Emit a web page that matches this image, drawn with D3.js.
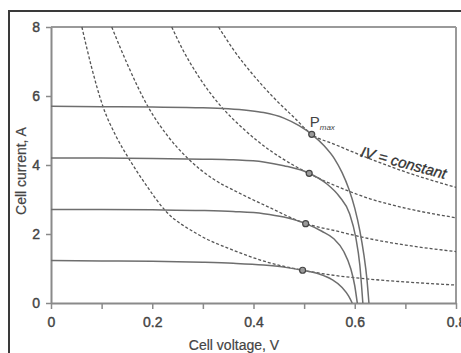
<!DOCTYPE html>
<html>
<head>
<meta charset="utf-8">
<script src="https://cdn.jsdelivr.net/npm/d3@7"></script>
<style>
  html, body { margin: 0; padding: 0; background: #fff; }
  svg { display: block; }
</style>
</head>
<body>
<svg id="chart" width="461" height="353"></svg>
<script>
// ---- Data ----
const xTickValues = [0, 0.1, 0.2, 0.3, 0.4, 0.5, 0.6, 0.7, 0.8];
const xTickLabels = ["0", "", "0.2", "", "0.4", "", "0.6", "", "0.8"];
const yTickValues = [0, 2, 4, 6, 8];
const yTickLabels = ["0", "2", "4", "6", "8"];

// I–V curves, [voltage V, current A]
const ivCurve57 = [[0,5.70],[0.1,5.69],[0.2,5.68],[0.3,5.66],[0.35,5.63],[0.39,5.58],[0.42,5.52],[0.46,5.36],[0.49,5.14],[0.515,4.89],[0.54,4.55],[0.56,4.18],[0.575,3.78],[0.588,3.32],[0.600,2.75],[0.610,2.10],[0.618,1.40],[0.624,0.70],[0.628,0]];
const ivCurve42 = [[0,4.20],[0.1,4.20],[0.2,4.19],[0.3,4.17],[0.36,4.15],[0.42,4.09],[0.46,3.98],[0.51,3.76],[0.545,3.45],[0.57,3.08],[0.59,2.58],[0.602,1.90],[0.610,1.10],[0.616,0]];
const ivCurve27 = [[0,2.71],[0.1,2.71],[0.2,2.70],[0.3,2.68],[0.36,2.65],[0.42,2.59],[0.46,2.49],[0.503,2.30],[0.535,2.08],[0.558,1.87],[0.578,1.50],[0.592,1.00],[0.600,0.50],[0.605,0]];
const ivCurve12 = [[0,1.23],[0.1,1.22],[0.2,1.21],[0.3,1.18],[0.36,1.15],[0.42,1.10],[0.46,1.04],[0.497,0.95],[0.53,0.84],[0.555,0.68],[0.575,0.45],[0.588,0.20],[0.595,0]];

// IV = constant (dashed) curves
const powerCurve1 = [[0.061,8.0],[0.08,6.84],[0.103,5.68],[0.128,4.85],[0.154,4.18],[0.186,3.46],[0.225,2.69],[0.288,2.01],[0.36,1.53],[0.426,1.19],[0.497,0.95],[0.56,0.80],[0.63,0.69],[0.70,0.61],[0.80,0.52]];
const powerCurve2 = [[0.120,8.0],[0.15,6.95],[0.192,5.68],[0.23,4.85],[0.271,4.18],[0.32,3.60],[0.37,3.20],[0.43,2.78],[0.503,2.30],[0.56,2.10],[0.63,1.86],[0.70,1.68],[0.80,1.49]];
const powerCurve3 = [[0.2385,8.0],[0.26,7.35],[0.29,6.60],[0.337,5.68],[0.38,5.05],[0.43,4.45],[0.47,4.07],[0.51,3.75],[0.57,3.35],[0.63,3.02],[0.70,2.75],[0.80,2.47]];
const powerCurve4 = [[0.331,8.0],[0.36,7.35],[0.40,6.60],[0.44,5.95],[0.48,5.38],[0.515,4.89],[0.56,4.60],[0.63,4.18],[0.70,3.80],[0.80,3.35]];

// Maximum power points
const pmaxV = [0.515, 0.51, 0.503, 0.497];
const pmaxI = [4.89, 3.76, 2.30, 0.95];

const xTitle = "Cell voltage, V";
const yTitle = "Cell current, A";

// ---- Drawing ----
const svg = d3.select("#chart");
const x = d3.scaleLinear().domain([0, 0.8]).range([51, 456]);
const y = d3.scaleLinear().domain([0, 8]).range([303, 27]);

const axisColor = "#8a8a8a";
const textColor = "#444";
const font = "'Liberation Sans', Arial, sans-serif";

// outer frame
svg.append("line").attr("x1", 9).attr("x2", 461).attr("y1", 11).attr("y2", 11)
  .attr("stroke", "#3a3a3a").attr("stroke-width", 2);
svg.append("line").attr("x1", 9).attr("x2", 9).attr("y1", 10).attr("y2", 353)
  .attr("stroke", "#3a3a3a").attr("stroke-width", 2);

// plot box top and right
svg.append("line").attr("x1", x(0)).attr("x2", x(0.8)).attr("y1", y(8)).attr("y2", y(8))
  .attr("stroke", "#9a9a9a").attr("stroke-width", 2);
svg.append("line").attr("x1", x(0.8)).attr("x2", x(0.8)).attr("y1", y(8)).attr("y2", y(0))
  .attr("stroke", "#9a9a9a").attr("stroke-width", 2);

// axes
const xAxis = d3.axisBottom(x).tickValues(xTickValues)
  .tickFormat((d, i) => xTickLabels[i]).tickSize(6).tickSizeOuter(0).tickPadding(8);
const yAxis = d3.axisLeft(y).tickValues(yTickValues)
  .tickFormat((d, i) => yTickLabels[i]).tickSize(5).tickSizeOuter(0).tickPadding(6);

const gx = svg.append("g").attr("transform", `translate(0,${y(0)})`).call(xAxis);
const gy = svg.append("g").attr("transform", `translate(${x(0)},0)`).call(yAxis);
[gx, gy].forEach(g => {
  g.select(".domain").attr("stroke", axisColor).attr("stroke-width", 2);
  g.selectAll(".tick line").attr("stroke", axisColor).attr("stroke-width", 1.5);
  g.selectAll(".tick text").attr("fill", textColor).attr("font-size", 14)
    .attr("font-family", font).attr("stroke", textColor).attr("stroke-width", 0.4);
});

// dashed IV = constant curves
const line = d3.line().x(d => x(d[0])).y(d => y(d[1])).curve(d3.curveMonotoneX);
[powerCurve1, powerCurve2, powerCurve3, powerCurve4].forEach(c => {
  svg.append("path").attr("d", line(c)).attr("fill", "none")
    .attr("stroke", "#555").attr("stroke-width", 1.3).attr("stroke-dasharray", "3,2");
});

// I-V curves
[ivCurve57, ivCurve42, ivCurve27, ivCurve12].forEach(c => {
  svg.append("path").attr("d", line(c)).attr("fill", "none")
    .attr("stroke", "#6e6e6e").attr("stroke-width", 1.5);
});

// Pmax points
svg.selectAll("circle.pmax").data(pmaxV).enter().append("circle")
  .attr("class", "pmax")
  .attr("cx", d => x(d)).attr("cy", (d, i) => y(pmaxI[i])).attr("r", 3)
  .attr("fill", "#9a9a9a").attr("stroke", "#444").attr("stroke-width", 1.2);

// P_max label
const pl = svg.append("text").attr("x", x(pmaxV[0]) - 2).attr("y", y(pmaxI[0]) - 7)
  .attr("font-family", font).attr("fill", textColor).attr("font-size", 15);
pl.append("tspan").text("P");
pl.append("tspan").attr("font-size", 8).attr("font-style", "italic").attr("dy", 3).text("max");

// IV = constant label
svg.append("text")
  .attr("transform", `translate(${x(0.61)},${y(4.25)}) rotate(15)`)
  .attr("font-family", font).attr("font-style", "italic").attr("font-size", 15)
  .attr("fill", "#333").attr("stroke", "#333").attr("stroke-width", 0.3)
  .text("IV = constant");

// axis titles
svg.append("text").attr("x", 234).attr("y", 350).attr("text-anchor", "middle")
  .attr("font-family", font).attr("font-size", 14).attr("fill", textColor)
  .attr("stroke", textColor).attr("stroke-width", 0.2).text(xTitle);
svg.append("text").attr("transform", "translate(26,171) rotate(-90)")
  .attr("text-anchor", "middle")
  .attr("font-family", font).attr("font-size", 14).attr("fill", textColor)
  .attr("stroke", textColor).attr("stroke-width", 0.2).text(yTitle);
</script>
</body>
</html>
